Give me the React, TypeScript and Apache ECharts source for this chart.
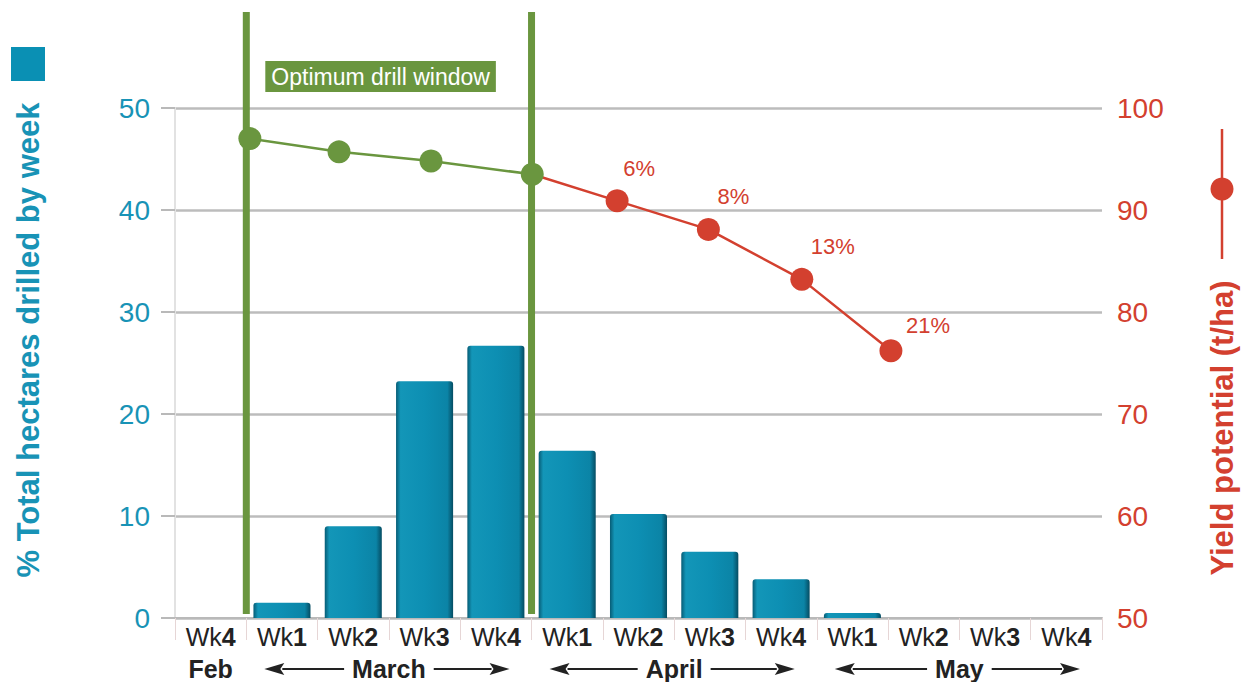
import React, { useEffect, useRef } from "react";
import * as echarts from "echarts";

// ---------- data ----------
const weekCategories = [
  "Feb Wk4",
  "Mar Wk1", "Mar Wk2", "Mar Wk3", "Mar Wk4",
  "Apr Wk1", "Apr Wk2", "Apr Wk3", "Apr Wk4",
  "May Wk1", "May Wk2", "May Wk3", "May Wk4",
];
const hectaresDrilledPct = [0, 1.5, 9.0, 23.2, 26.7, 16.4, 10.2, 6.5, 3.8, 0.5, 0, 0, 0];

// yield potential points: position in weeks (0 = start of Feb Wk4) and t/ha
const yieldWeekPos = [1.05, 2.3, 3.59, 5.01, 6.2, 7.48, 8.79, 10.04];
const yieldPotential = [97.0, 95.7, 94.8, 93.5, 90.9, 88.1, 83.2, 76.2];
const yieldLossLabels = ["", "", "", "", "6%", "8%", "13%", "21%"];
const optimumCount = 4; // first 4 points are inside the optimum window

const months = ["Feb", "March", "April", "May"];
const monthStartWeek = [0, 1, 5, 9];
const monthEndWeek = [1, 5, 9, 13];
const drillWindow = [1, 5];

const leftAxisMin = 0, leftAxisMax = 50, leftAxisStep = 10;
const rightAxisMin = 50, rightAxisMax = 100, rightAxisStep = 10;

// ---------- styles ----------
const TEAL = "#0a90b4";
const TEAL_TEXT = "#1893b6";
const RED = "#d3402f";
const GREEN = "#6a963f";
const FONT = "'Liberation Sans', Arial, Helvetica, sans-serif";
const lossLabelOffsets = [[0, 0], [22, 0], [25, 0], [31, 0], [37, 7]];

export default function App() {
  const ref = useRef<HTMLDivElement>(null);

  useEffect(() => {
    if (!ref.current) return;
    const chart = echarts.init(ref.current, undefined, { renderer: "svg" });

    const barGradient = new echarts.graphic.LinearGradient(0, 0, 1, 0, [
      { offset: 0, color: "#075c75" },
      { offset: 0.08, color: "#1396b8" },
      { offset: 0.5, color: "#0d8fb3" },
      { offset: 0.9, color: "#0b84a6" },
      { offset: 1, color: "#054c62" },
    ]);

    const pts = yieldWeekPos.map((x, i) => [x, yieldPotential[i]]);
    const greenData = pts.slice(0, optimumCount);
    const redData = pts.slice(optimumCount - 1).map((p, j) => {
      const idx = optimumCount - 1 + j;
      return {
        value: p,
        symbolSize: j === 0 ? 0 : 23,
        label: {
          show: yieldLossLabels[idx] !== "",
          formatter: yieldLossLabels[idx],
          offset: lossLabelOffsets[j],
        },
      };
    });

    chart.setOption({
      animation: false,
      textStyle: { fontFamily: FONT },
      grid: { left: 175, right: 152, top: 108, bottom: 64 },
      xAxis: [
        {
          type: "category",
          data: weekCategories,
          boundaryGap: true,
          axisLine: { show: true, lineStyle: { color: "#b9b9b9", width: 2 } },
          axisTick: { show: true, interval: 0, length: 22, lineStyle: { color: "#e6d6d6", width: 1 } },
          axisLabel: {
            interval: 0,
            margin: 6,
            formatter: (v: string) => `{a|Wk}{b|${v.slice(-1)}}`,
            rich: {
              a: { fontSize: 25, color: "#222", fontFamily: FONT },
              b: { fontSize: 25, color: "#222", fontWeight: "bold", fontFamily: FONT },
            },
          },
          splitLine: { show: false },
        },
        {
          type: "value",
          min: 0,
          max: weekCategories.length,
          show: false,
        },
      ],
      yAxis: [
        {
          type: "value",
          min: leftAxisMin,
          max: leftAxisMax,
          interval: leftAxisStep,
          position: "left",
          axisLine: { show: true, lineStyle: { color: "#e2e2e2", width: 2 } },
          axisTick: { show: true, inside: false, length: 14, lineStyle: { color: "#b9b9b9", width: 2 } },
          axisLabel: { color: TEAL_TEXT, fontSize: 28, margin: 25 },
          splitLine: { show: true, lineStyle: { color: "#bcbcbc", width: 2.5 } },
        },
        {
          type: "value",
          min: rightAxisMin,
          max: rightAxisMax,
          interval: rightAxisStep,
          position: "right",
          axisLine: { show: false },
          axisTick: { show: false },
          axisLabel: { color: RED, fontSize: 28, margin: 15 },
          splitLine: { show: false },
        },
      ],
      series: [
        {
          type: "bar",
          name: "% Total hectares drilled by week",
          xAxisIndex: 0,
          yAxisIndex: 0,
          data: hectaresDrilledPct,
          barWidth: "80%",
          itemStyle: { color: barGradient, borderRadius: [3, 3, 0, 0] },
          z: 2,
        },
        {
          type: "line",
          name: "Yield potential (t/ha) late",
          xAxisIndex: 1,
          yAxisIndex: 1,
          data: redData,
          symbol: "circle",
          symbolSize: 23,
          lineStyle: { color: RED, width: 2.5 },
          itemStyle: { color: RED },
          label: { show: true, position: "top", distance: 10, color: RED, fontSize: 22 },
          z: 4,
        },
        {
          type: "line",
          name: "Yield potential (t/ha) optimum",
          xAxisIndex: 1,
          yAxisIndex: 1,
          data: greenData,
          symbol: "circle",
          symbolSize: 23,
          lineStyle: { color: GREEN, width: 2.5 },
          itemStyle: { color: GREEN },
          z: 6,
        },
      ],
    });

    // ---- overlay elements positioned through the chart's own scales ----
    const gx = (v: number) => chart.convertToPixel({ xAxisIndex: 1 }, v) as number;
    const yBottom = chart.convertToPixel({ yAxisIndex: 0 }, leftAxisMin) as number;

    const ctx = document.createElement("canvas").getContext("2d")!;
    const monthFont = `bold 25px ${FONT}`;
    ctx.font = monthFont;

    const graphics: any[] = [];

    // legend markers and axis titles
    graphics.push({
      type: "rect",
      shape: { x: 11, y: 47, width: 34, height: 34 },
      style: { fill: TEAL },
    });
    graphics.push({
      type: "text",
      x: 28,
      y: 340,
      rotation: Math.PI / 2,
      style: {
        text: "% Total hectares drilled by week",
        fontSize: 31,
        fontWeight: "bold",
        fontFamily: FONT,
        fill: TEAL_TEXT,
        align: "center",
        verticalAlign: "middle",
      },
    });
    graphics.push({
      type: "line",
      shape: { x1: 1222, y1: 129, x2: 1222, y2: 259 },
      style: { stroke: RED, lineWidth: 2.5 },
    });
    graphics.push({
      type: "circle",
      shape: { cx: 1222, cy: 189, r: 11.5 },
      style: { fill: RED },
    });
    graphics.push({
      type: "text",
      x: 1222,
      y: 428,
      rotation: Math.PI / 2,
      style: {
        text: "Yield potential (t/ha)",
        fontSize: 31,
        fontWeight: "bold",
        fontFamily: FONT,
        fill: RED,
        align: "center",
        verticalAlign: "middle",
      },
    });

    // optimum drill window
    drillWindow.forEach((w) => {
      const x = gx(w);
      graphics.push({
        type: "line",
        shape: { x1: x, y1: 12, x2: x, y2: yBottom - 4 },
        style: { stroke: GREEN, lineWidth: 7 },
        z: 5,
      });
    });
    graphics.push({
      type: "text",
      x: gx(drillWindow[0]) + 19,
      y: 61,
      style: {
        text: "Optimum drill window",
        fontSize: 23,
        fontFamily: FONT,
        fill: "#ffffff",
        backgroundColor: GREEN,
        padding: [4, 6, 4, 6],
        align: "left",
        verticalAlign: "top",
      },
    });

    // month labels with arrows
    const monthY = 669;
    const head = 20;
    const arrow = (tip: number, tail: number) => {
      const dir = tip < tail ? 1 : -1; // 1 -> pointing left
      graphics.push({
        type: "line",
        shape: { x1: tail, y1: monthY, x2: tip + dir * (head - 2), y2: monthY },
        style: { stroke: "#222", lineWidth: 2 },
      });
      graphics.push({
        type: "polygon",
        shape: {
          points: [
            [tip, monthY],
            [tip + dir * head, monthY - 6],
            [tip + dir * (head - 4), monthY],
            [tip + dir * head, monthY + 6],
          ],
        },
        style: { fill: "#222" },
      });
    };
    months.forEach((m, i) => {
      const x0 = gx(monthStartWeek[i]);
      const x1 = gx(monthEndWeek[i]);
      const cx = (x0 + x1) / 2;
      graphics.push({
        type: "text",
        x: cx,
        y: monthY,
        style: {
          text: m,
          font: monthFont,
          fill: "#222",
          align: "center",
          verticalAlign: "middle",
        },
      });
      if (monthEndWeek[i] - monthStartWeek[i] > 1) {
        const tw = ctx.measureText(m).width;
        const gap = 8;
        arrow(x0 + 18, cx - tw / 2 - gap);
        arrow(x1 - 22, cx + tw / 2 + gap);
      }
    });

    chart.setOption({ graphic: { elements: graphics } });

    return () => chart.dispose();
  }, []);

  return (
    <div
      ref={ref}
      style={{ position: "absolute", left: 0, top: 0, width: 1254, height: 682, background: "#fff" }}
    />
  );
}
